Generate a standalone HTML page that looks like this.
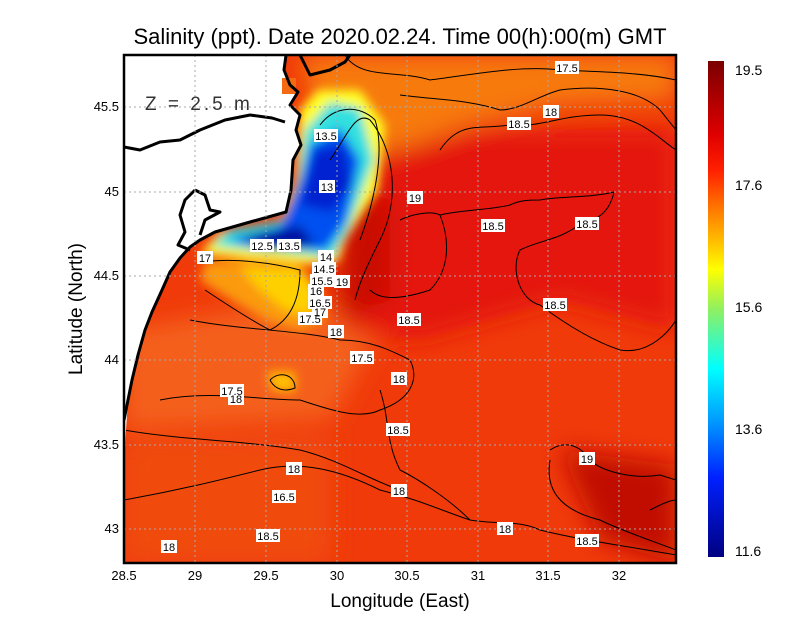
<!DOCTYPE html>
<html><head><meta charset="utf-8"><style>
body{margin:0;background:#fff;}
svg{display:block;font-family:"Liberation Sans",sans-serif;}
.l{font-size:11px;}
</style></head><body>
<svg width="800" height="618" viewBox="0 0 800 618">
<defs>
<clipPath id="c"><rect x="124" y="55" width="552" height="508"/></clipPath>
<filter id="b" x="-30%" y="-30%" width="160%" height="160%"><feGaussianBlur stdDeviation="12"/></filter>
<filter id="b2" x="-30%" y="-30%" width="160%" height="160%"><feGaussianBlur stdDeviation="5"/></filter>
<linearGradient id="cb" x1="0" y1="0" x2="0" y2="1">
<stop offset="0" stop-color="#7a0000"/><stop offset="0.15" stop-color="#e00000"/>
<stop offset="0.22" stop-color="#ff2000"/><stop offset="0.3" stop-color="#ff7a00"/>
<stop offset="0.38" stop-color="#ffd000"/><stop offset="0.42" stop-color="#ffff00"/>
<stop offset="0.5" stop-color="#90f060"/><stop offset="0.62" stop-color="#00ffff"/>
<stop offset="0.72" stop-color="#00a0ff"/><stop offset="0.84" stop-color="#0020ff"/>
<stop offset="1" stop-color="#000080"/></linearGradient>
</defs>
<g clip-path="url(#c)">
<rect x="124" y="55" width="552" height="508" fill="#f03a0a"/>
<g filter="url(#b)">
<path d="M300 55 L676 55 L676 100 L560 105 L470 125 L400 150 L330 165 Z" fill="#f77a10"/>
<path d="M124 330 L300 300 L380 330 L330 420 L124 430 Z" fill="#f4601a"/>
<path d="M350 160 L480 130 L676 130 L676 330 L560 300 L420 340 L345 330 Z" fill="#e41808"/>
<path d="M560 450 L676 465 L676 563 L600 540 Z" fill="#c00a04"/>
<path d="M340 185 L390 200 L390 300 L340 320 Z" fill="#c81004"/>
<path d="M124 440 L330 440 L330 563 L124 563 Z" fill="#f04c0c"/>
</g>
<g filter="url(#b2)">
<path d="M205 262 L250 260 L300 265 L320 290 L325 320 L300 330 L270 322 L240 305 L215 290 L200 280 Z" fill="#fb9a10"/>
<path d="M240 268 L300 268 L318 295 L310 315 L285 310 L260 290 Z" fill="#ffd000"/>
<path d="M300 110 L318 90 L360 90 L385 125 L378 190 L345 240 L338 262 L310 264 L200 254 L220 232 L280 222 L296 180 Z" fill="#ffff20"/>
<path d="M305 130 L330 102 L360 108 L374 160 L348 230 L332 258 L300 254 L212 246 L228 230 L284 220 L298 180 Z" fill="#30e0e0"/>
<path d="M310 145 L340 128 L360 160 L346 222 L326 250 L260 248 L228 240 L280 226 L300 180 Z" fill="#0050f0"/>
<path d="M315 150 L345 145 L352 185 L332 212 L300 205 Z" fill="#0020d0"/>
<path d="M240 236 L300 226 L315 245 L270 250 Z" fill="#0010a0"/>
<path d="M268 372 L295 372 L295 392 L272 390 Z" fill="#ffc000"/>
</g>
<g fill="none" stroke="#000" stroke-width="1">
<path d="M345 55 C360 80 400 70 430 80 C470 75 520 65 560 70 C600 72 640 72 676 80"/>
<path d="M400 95 C440 100 470 100 500 110 C520 110 540 95 560 90 C600 85 640 90 660 110 L676 130"/>
<path d="M440 150 C460 120 480 130 510 125 C540 128 560 115 600 115 C640 115 660 140 676 150"/>
<path d="M440 215 C460 210 490 210 510 205 C520 200 530 200 540 200 C560 196 590 198 614 192 C610 210 600 220 580 224 C560 240 540 240 520 250 C510 270 520 300 540 305 C560 320 590 340 620 350 C650 355 670 330 676 320"/>
<path d="M400 220 C410 215 430 210 440 215 C450 240 450 270 430 290 C400 300 380 300 370 290"/>
<path d="M330 160 C345 140 355 110 370 120 C395 150 400 200 380 240 C370 260 360 280 355 300"/>
<path d="M320 125 C335 105 360 105 375 120 C385 150 375 200 360 240"/>
<path d="M205 262 C230 258 270 262 300 270 C300 300 290 320 270 330 C250 320 220 300 205 290"/>
<path d="M190 320 C240 330 300 330 340 340 C370 340 390 350 410 360 C420 380 410 400 380 410 C360 420 330 410 300 400 C260 400 210 390 160 400"/>
<path d="M124 500 C180 490 220 480 260 470 C300 460 340 470 380 490 C420 500 440 510 470 520 C500 525 520 520 540 530 C580 540 620 545 676 555"/>
<path d="M124 430 C180 440 240 440 300 450 C340 460 370 480 400 490"/>
<path d="M550 450 C565 440 580 445 590 460 C600 470 630 480 660 475 L676 480"/>
<path d="M550 460 C545 490 560 510 600 520 C620 530 650 540 676 550"/>
<path d="M650 510 C660 505 670 500 676 500"/>
<path d="M380 390 C390 420 385 440 400 470 C420 480 450 500 470 520"/>
<path d="M270 380 C280 370 295 375 295 388 C285 392 275 390 270 380"/>
</g>
<path d="M124 55 L286 55 L284 70 L290 85 L298 92 L290 105 L300 115 L296 130 L301 145 L293 160 L291 190 L286 212 L250 222 L215 232 L200 240 L190 247 L180 258 L170 272 L162 290 L152 312 L145 330 L138 355 L132 380 L128 400 L124 460 Z" fill="#fff"/>
<rect x="282" y="78" width="14" height="16" fill="#f46a12"/>
<g fill="none" stroke="#000" stroke-width="3" stroke-linejoin="round">
<path d="M286 55 L284 70 L290 85 L298 92 L290 105 L300 115 L296 130 L301 145 L293 160 L291 190 L286 212 L250 222 L215 232 L200 240 L190 247 L180 258 L170 272 L162 290 L152 312 L145 330 L138 355 L132 380 L128 400 L124 420"/>
<path d="M124 147 L140 150 L160 142 L180 140 L200 130 L225 120 L250 115 L272 118 L285 122"/>
<path d="M300 55 L305 65 L310 75 L330 70 L345 62 L350 55"/>
<path d="M195 190 L185 200 L180 215 L185 232 L178 245 L190 250"/>
<path d="M195 190 L205 195 L210 210 L220 212 L205 220 L200 235"/>
</g>
<g stroke="#aaa" stroke-width="1" stroke-dasharray="2,3">
<line x1="195" y1="55" x2="195" y2="563"/><line x1="266" y1="55" x2="266" y2="563"/>
<line x1="337" y1="55" x2="337" y2="563"/><line x1="407" y1="55" x2="407" y2="563"/>
<line x1="478" y1="55" x2="478" y2="563"/><line x1="548" y1="55" x2="548" y2="563"/>
<line x1="619" y1="55" x2="619" y2="563"/>
<line x1="124" y1="107" x2="676" y2="107"/><line x1="124" y1="192" x2="676" y2="192"/>
<line x1="124" y1="276" x2="676" y2="276"/><line x1="124" y1="360" x2="676" y2="360"/>
<line x1="124" y1="445" x2="676" y2="445"/><line x1="124" y1="529" x2="676" y2="529"/>
</g>
<g class="l" text-anchor="middle">
<g fill="#fff">
<rect x="555" y="61" width="24" height="13"/><rect x="543" y="105" width="16" height="13"/><rect x="507" y="117" width="24" height="13"/>
<rect x="314" y="129" width="24" height="13"/><rect x="319" y="180" width="16" height="13"/><rect x="407" y="191" width="16" height="13"/>
<rect x="481" y="219" width="24" height="13"/><rect x="575" y="217" width="24" height="13"/><rect x="250" y="239" width="24" height="13"/>
<rect x="277" y="239" width="24" height="13"/><rect x="318" y="250" width="16" height="13"/><rect x="197" y="251" width="16" height="13"/>
<rect x="312" y="262" width="24" height="13"/><rect x="310" y="274" width="24" height="13"/><rect x="334" y="275" width="16" height="13"/>
<rect x="308" y="284" width="16" height="13"/><rect x="308" y="296" width="24" height="13"/><rect x="312" y="305" width="16" height="13"/>
<rect x="298" y="312" width="24" height="13"/><rect x="328" y="325" width="16" height="13"/><rect x="397" y="313" width="24" height="13"/>
<rect x="543" y="298" width="24" height="13"/><rect x="350" y="351" width="24" height="13"/><rect x="391" y="372" width="16" height="13"/>
<rect x="220" y="384" width="24" height="13"/><rect x="228" y="392" width="16" height="13"/><rect x="386" y="423" width="24" height="13"/>
<rect x="579" y="452" width="16" height="13"/><rect x="286" y="462" width="16" height="13"/><rect x="391" y="484" width="16" height="13"/>
<rect x="272" y="490" width="24" height="13"/><rect x="497" y="522" width="16" height="13"/><rect x="256" y="529" width="24" height="13"/>
<rect x="575" y="534" width="24" height="13"/><rect x="161" y="540" width="16" height="13"/>
</g>
<text x="567" y="72">17.5</text><text x="551" y="116">18</text><text x="519" y="128">18.5</text>
<text x="326" y="140">13.5</text><text x="327" y="191">13</text><text x="415" y="202">19</text>
<text x="493" y="230">18.5</text><text x="587" y="228">18.5</text><text x="262" y="250">12.5</text>
<text x="289" y="250">13.5</text><text x="326" y="261">14</text><text x="205" y="262">17</text>
<text x="324" y="273">14.5</text><text x="322" y="285">15.5</text><text x="342" y="286">19</text>
<text x="316" y="295">16</text><text x="320" y="307">16.5</text><text x="320" y="316">17</text>
<text x="310" y="323">17.5</text><text x="336" y="336">18</text><text x="409" y="324">18.5</text>
<text x="555" y="309">18.5</text><text x="362" y="362">17.5</text><text x="399" y="383">18</text>
<text x="232" y="395">17.5</text><text x="236" y="403">18</text><text x="398" y="434">18.5</text>
<text x="587" y="463">19</text><text x="294" y="473">18</text><text x="399" y="495">18</text>
<text x="284" y="501">16.5</text><text x="505" y="533">18</text><text x="268" y="540">18.5</text>
<text x="587" y="545">18.5</text><text x="169" y="551">18</text>
</g>
<text x="145" y="110" font-size="19" fill="#333" letter-spacing="3">Z = 2.5 m</text>
</g>
<rect x="124" y="55" width="552" height="508" fill="none" stroke="#000" stroke-width="2.5"/>
<text x="400" y="44" font-size="22" text-anchor="middle">Salinity (ppt). Date 2020.02.24. Time 00(h):00(m) GMT</text>
<g font-size="13" text-anchor="middle">
<text x="124" y="580">28.5</text><text x="195" y="580">29</text><text x="266" y="580">29.5</text>
<text x="337" y="580">30</text><text x="407" y="580">30.5</text><text x="478" y="580">31</text>
<text x="548" y="580">31.5</text><text x="619" y="580">32</text>
</g>
<g font-size="13" text-anchor="end">
<text x="119" y="111">45.5</text><text x="119" y="196">45</text><text x="119" y="280">44.5</text>
<text x="119" y="364">44</text><text x="119" y="449">43.5</text><text x="119" y="533">43</text>
</g>
<text x="400" y="607" font-size="19" text-anchor="middle">Longitude (East)</text>
<text transform="translate(82 309) rotate(-90)" font-size="19" text-anchor="middle">Latitude (North)</text>
<rect x="708" y="61" width="16" height="496" fill="url(#cb)"/>
<g font-size="14">
<text x="735" y="75">19.5</text><text x="735" y="190">17.6</text><text x="735" y="312">15.6</text>
<text x="735" y="434">13.6</text><text x="735" y="556">11.6</text>
</g>
</svg>
</body></html>
